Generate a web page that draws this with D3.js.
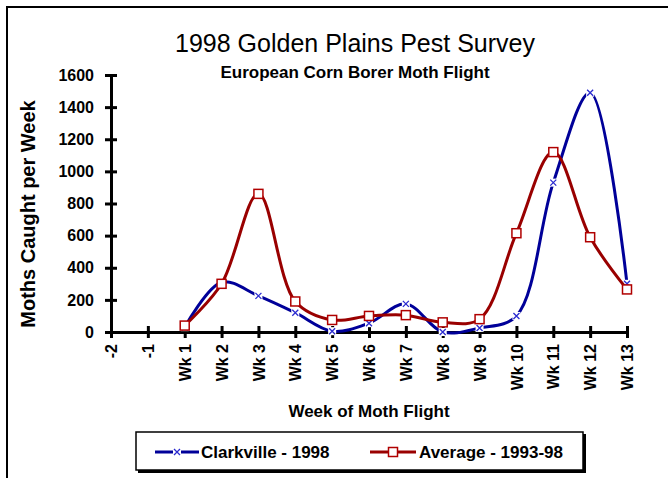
<!DOCTYPE html>
<html>
<head>
<meta charset="utf-8">
<script src="https://cdn.jsdelivr.net/npm/d3@7"></script>
<style>
	body { margin: 0; background: #fff; }
	svg { display: block; font-family: "Liberation Sans", Arial, sans-serif; }
	.axis path, .axis line { stroke: #000; stroke-width: 3; }
	.axis text { font-size: 16px; font-weight: bold; fill: #000; }
</style>
</head>
<body>
<div class="chart-wrapper"></div>
<script>

const categories = ['-2','-1','Wk 1','Wk 2','Wk 3','Wk 4','Wk 5','Wk 6','Wk 7','Wk 8','Wk 9','Wk 10','Wk 11','Wk 12','Wk 13']
const clarkville = [null,null,30,310,225,120,5,55,175,0,25,100,930,1490,300]
const average = [null,null,40,300,860,190,75,100,105,60,80,615,1120,590,265]
const yTicks = [0,200,400,600,800,1000,1200,1400,1600]

const width = 668
const height = 478
const blue = '#000099'
const red = '#990000'

let svg = d3.select('.chart-wrapper').append('svg')
.attr('width', width)
.attr('height', height)

// frame
svg.append('path')
.attr('d', `M7,${height} V7 H${width}`)
.attr('fill', 'none')
.attr('stroke', '#000')
.attr('stroke-width', 2)

svg.append('text')
.attr('x', 355)
.attr('y', 52)
.attr('text-anchor', 'middle')
.style('font-size', '25px')
.text('1998 Golden Plains Pest Survey')

svg.append('text')
.attr('x', 355)
.attr('y', 78)
.attr('text-anchor', 'middle')
.style('font-size', '17px')
.style('font-weight', 'bold')
.text('European Corn Borer Moth Flight')

let xScale = d3.scalePoint()
.domain(categories)
.range([111, 627])

let yScale = d3.scaleLinear()
.domain([0, 1600])
.range([332, 75])

let yaxis = svg.append('g')
.attr('class', 'axis')
.attr('transform', `translate(${xScale('-2')},0)`)
.call(
	d3.axisLeft(yScale)
	.tickValues(yTicks)
	.tickFormat(d3.format('d'))
	.tickSizeOuter(0)
	.tickPadding(11)
)

yaxis.selectAll('.tick line').attr('x1', -6).attr('x2', 6)

let xaxis = svg.append('g')
.attr('class', 'axis')
.attr('transform', `translate(0,${yScale(0)})`)
.call(d3.axisBottom(xScale).tickSizeOuter(0))

xaxis.selectAll('.tick line').attr('y1', -6).attr('y2', 6)
xaxis.selectAll('.tick text')
.attr('transform', 'rotate(-90)')
.attr('text-anchor', 'end')
.attr('x', -12)
.attr('y', 0)
.attr('dy', '0.35em')

svg.append('text')
.attr('transform', 'translate(35,214) rotate(-90)')
.attr('text-anchor', 'middle')
.style('font-size', '20px')
.style('font-weight', 'bold')
.text('Moths Caught per Week')

svg.append('text')
.attr('x', 369)
.attr('y', 417)
.attr('text-anchor', 'middle')
.style('font-size', '17px')
.style('font-weight', 'bold')
.text('Week of Moth Flight')

const line = d3.line()
.defined(d => d.v !== null)
.curve(d3.curveCatmullRom.alpha(0.5))
.x(d => xScale(d.c))
.y(d => yScale(d.v))

const toPoints = values => categories.map((c, i) => ({c: c, v: values[i]}))

let plot = svg.append('g')

const drawX = (g, cx, cy) => {
	g.append('rect')
	.attr('x', cx - 4).attr('y', cy - 4)
	.attr('width', 8).attr('height', 8)
	.attr('fill', '#fff')
	g.append('path')
	.attr('d', `M${cx - 3},${cy - 3}L${cx + 3},${cy + 3}M${cx + 3},${cy - 3}L${cx - 3},${cy + 3}`)
	.attr('stroke', '#2a2ad0')
	.attr('stroke-width', 1.3)
}

const drawSquare = (g, cx, cy) => {
	g.append('rect')
	.attr('x', cx - 4.5).attr('y', cy - 4.5)
	.attr('width', 9).attr('height', 9)
	.attr('fill', '#fff')
	.attr('stroke', '#b00000')
	.attr('stroke-width', 1.5)
}

plot.append('path')
.datum(toPoints(clarkville))
.attr('fill', 'none')
.attr('stroke', blue)
.attr('stroke-width', 3)
.attr('d', line)

toPoints(clarkville).filter(d => d.v !== null).forEach(d => drawX(plot, xScale(d.c), yScale(d.v)))

plot.append('path')
.datum(toPoints(average))
.attr('fill', 'none')
.attr('stroke', red)
.attr('stroke-width', 3)
.attr('d', line)

toPoints(average).filter(d => d.v !== null).forEach(d => drawSquare(plot, xScale(d.c), yScale(d.v)))

// legend
let legend = svg.append('g')

legend.append('rect')
.attr('x', 138).attr('y', 434)
.attr('width', 448).attr('height', 39)
.attr('fill', '#000')

legend.append('rect')
.attr('x', 136).attr('y', 432)
.attr('width', 447).attr('height', 38)
.attr('fill', '#fff')
.attr('stroke', '#000')
.attr('stroke-width', 1.5)

legend.append('line')
.attr('x1', 155).attr('x2', 199)
.attr('y1', 452).attr('y2', 452)
.attr('stroke', blue)
.attr('stroke-width', 3)

drawX(legend, 177, 452)

legend.append('text')
.attr('x', 201).attr('y', 458)
.style('font-size', '17px')
.style('font-weight', 'bold')
.text('Clarkville - 1998')

legend.append('line')
.attr('x1', 370).attr('x2', 416)
.attr('y1', 452).attr('y2', 452)
.attr('stroke', red)
.attr('stroke-width', 3)

drawSquare(legend, 393, 452)

legend.append('text')
.attr('x', 419).attr('y', 458)
.style('font-size', '17px')
.style('font-weight', 'bold')
.text('Average - 1993-98')

</script>
</body>
</html>
